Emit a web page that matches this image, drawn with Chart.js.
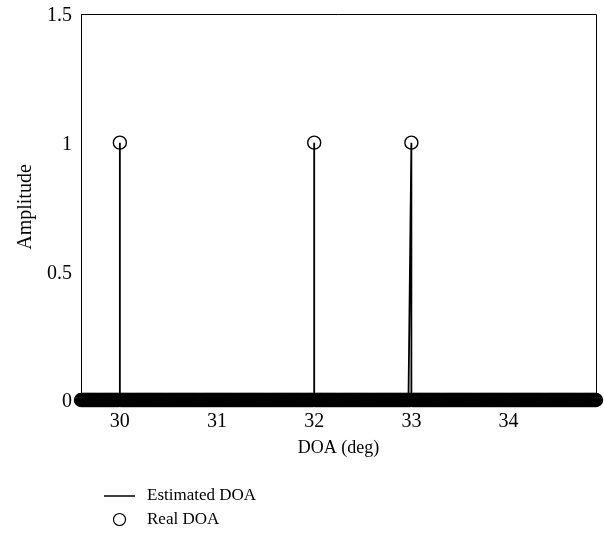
<!DOCTYPE html>
<html>
<head>
<meta charset="utf-8">
<title>DOA estimate</title>
<script src="https://cdn.jsdelivr.net/npm/chart.js@4.4.1/dist/chart.umd.min.js"></script>
<style>
    html, body { margin: 0; padding: 0; background: #fff; }
    #doaChart { display: block; }
</style>
</head>
<body>
<canvas id="doaChart" width="605" height="537"></canvas>
<script>
// Angle grid of the sparse spectrum (deg)
const gridStart = 29.6;
const gridEnd = 34.9;
const gridStep = 0.01;

// True source directions and their amplitudes
const realDoas = [30, 32, 33];
const realAmplitudes = [1, 1, 1];

// Recovered spectrum, traced as a polyline
const estimatedDoas = [29.6, 30, 30, 30, 32, 32, 32, 32.97, 33, 33, 34.9];
const estimatedAmplitudes = [0, 0, 1, 0, 0, 1, 0, 0, 1, 0, 0];

// Axis ticks
const xTicks = [30, 31, 32, 33, 34];
const yTicks = [0, 0.5, 1, 1.5];

const serif = '"Liberation Serif", "DejaVu Serif", serif';

// Real DOA is plotted on every grid point: zero except at the sources
function buildRealSpectrum() {
    const count = Math.round((gridEnd - gridStart) / gridStep);
    const points = [];
    for (let i = 0; i <= count; i++) {
        const x = +(gridStart + i * gridStep).toFixed(2);
        const k = realDoas.indexOf(x);
        points.push({ x: x, y: k >= 0 ? realAmplitudes[k] : 0 });
    }
    return points;
}

const estimatedPoints = estimatedDoas.map((x, i) => ({ x: x, y: estimatedAmplitudes[i] }));

// Top and right edges of the axes box
const boxPlugin = {
    id: 'box',
    beforeDatasetsDraw(chart) {
        const { ctx, chartArea: a } = chart;
        ctx.save();
        ctx.strokeStyle = '#000';
        ctx.lineWidth = 1;
        ctx.beginPath();
        ctx.moveTo(a.left, a.top + 0.5);
        ctx.lineTo(a.right + 0.5, a.top + 0.5);
        ctx.lineTo(a.right + 0.5, a.bottom);
        ctx.stroke();
        ctx.restore();
    }
};

// Two-row legend under the x axis title
const legendPlugin = {
    id: 'stackedLegend',
    afterDraw(chart) {
        const ctx = chart.ctx;
        ctx.save();
        ctx.strokeStyle = '#000';
        ctx.fillStyle = '#000';
        ctx.font = '17px ' + serif;
        ctx.textBaseline = 'middle';
        ctx.textAlign = 'left';

        ctx.lineWidth = 1.5;
        ctx.beginPath();
        ctx.moveTo(104, 496);
        ctx.lineTo(135, 496);
        ctx.stroke();
        ctx.fillText(chart.data.datasets[0].label, 147, 496);

        ctx.lineWidth = 1.2;
        ctx.beginPath();
        ctx.arc(119.5, 519.5, 6, 0, Math.PI * 2);
        ctx.stroke();
        ctx.fillText(chart.data.datasets[1].label, 147, 520);
        ctx.restore();
    }
};

new Chart(document.getElementById('doaChart').getContext('2d'), {
    type: 'scatter',
    data: {
        datasets: [{
            label: 'Estimated DOA',
            data: estimatedPoints,
            showLine: true,
            borderColor: '#000',
            borderWidth: 1.8,
            pointRadius: 0,
            clip: false
        }, {
            label: 'Real DOA',
            data: buildRealSpectrum(),
            showLine: false,
            borderColor: '#000',
            backgroundColor: 'rgba(0,0,0,0)',
            borderWidth: 1.4,
            pointRadius: 6.5,
            clip: false
        }]
    },
    options: {
        responsive: false,
        animation: false,
        devicePixelRatio: 1,
        layout: { padding: { top: 14, right: 9, left: 0, bottom: 77 } },
        plugins: {
            legend: { display: false },
            tooltip: { enabled: false }
        },
        scales: {
            x: {
                type: 'linear',
                min: gridStart,
                max: gridEnd,
                afterBuildTicks: (scale) => { scale.ticks = xTicks.map(v => ({ value: v })); },
                afterFit: (scale) => {
                    scale.height = 60;
                    scale.paddingLeft = 0;
                    scale.paddingRight = 0;
                },
                grid: { display: false, drawTicks: false },
                border: { display: true, color: '#000', width: 1 },
                ticks: {
                    color: '#000',
                    padding: 10,
                    maxRotation: 0,
                    font: { family: serif, size: 20 }
                },
                title: {
                    display: true,
                    text: 'DOA (deg)',
                    color: '#000',
                    padding: { top: 0, bottom: 1 },
                    font: { family: serif, size: 18 }
                }
            },
            y: {
                type: 'linear',
                min: 0,
                max: 1.5,
                afterBuildTicks: (scale) => { scale.ticks = yTicks.map(v => ({ value: v })); },
                afterFit: (scale) => {
                    scale.width = 81;
                    scale.paddingTop = 0;
                    scale.paddingBottom = 0;
                },
                grid: { display: false, drawTicks: false },
                border: { display: true, color: '#000', width: 1 },
                ticks: {
                    color: '#000',
                    padding: 9,
                    labelOffset: 2,
                    font: { family: serif, size: 20 },
                    callback: (value) => String(value)
                },
                title: {
                    display: true,
                    text: 'Amplitude',
                    color: '#000',
                    padding: { top: 14, bottom: 0 },
                    font: { family: serif, size: 20 }
                }
            }
        }
    },
    plugins: [boxPlugin, legendPlugin]
});
</script>
</body>
</html>
